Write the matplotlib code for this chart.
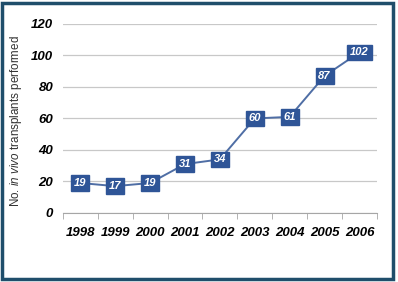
import numpy as np
import matplotlib.pyplot as plt
from matplotlib.patches import Rectangle

years = ['1998', '1999', '2000', '2001', '2002', '2003', '2004', '2005', '2006']
transplants = [19, 17, 19, 31, 34, 60, 61, 87, 102]
y_ticks = [0, 20, 40, 60, 80, 100, 120]

plt.rcParams['font.family'] = ['Liberation Sans', 'DejaVu Sans']
plt.rcParams['mathtext.fontset'] = 'custom'
plt.rcParams['mathtext.rm'] = 'Liberation Sans'
plt.rcParams['mathtext.it'] = 'Liberation Sans:italic'

fig = plt.figure(figsize=(3.98, 2.82), dpi=100)
ax = fig.add_axes([0.158, 0.245, 0.789, 0.67])

x = np.arange(len(years))
ax.plot(x, transplants, color='#4f6ea5', linewidth=1.4, zorder=2)

# value boxes
for xi, v in zip(x, transplants):
    ax.text(xi, v, str(v), ha='center', va='center', color='white',
            fontsize=8, fontweight='bold', fontstyle='italic', zorder=3,
            bbox=dict(boxstyle='square,pad=0.25', fc='#2f5597', ec='#2f5597'))

ax.set_xlim(-0.5, len(years) - 0.5)
ax.set_ylim(0, 120)
ax.set_yticks(y_ticks)
ax.set_yticklabels([str(t) for t in y_ticks], fontsize=9.5, fontweight='bold', fontstyle='italic')
ax.set_xticks(x)
ax.set_xticklabels(years, fontsize=9.5, fontweight='bold', fontstyle='italic')
ax.tick_params(axis='x', length=0, pad=10)
ax.tick_params(axis='y', length=0, pad=7)

# category boundary ticks
ax.set_xticks(np.arange(len(years) + 1) - 0.5, minor=True)
ax.tick_params(axis='x', which='minor', length=4, color='#a6a6a6', direction='out')

ax.grid(axis='y', color='#c8c8c8', linewidth=0.9)
ax.set_axisbelow(True)
for s in ['top', 'right', 'left']:
    ax.spines[s].set_visible(False)
ax.spines['bottom'].set_color('#a6a6a6')

fig.text(0.04, 0.57, r'No. $\mathit{in\ vivo}$ transplants performed', rotation=90,
         ha='center', va='center', fontsize=8.4, color='#333333')

fig.patches.append(Rectangle((0.006, 0.012), 0.982, 0.978, transform=fig.transFigure,
                             fill=False, ec='#1f4e6b', lw=2.5))

plt.savefig('out.png', dpi=100)
